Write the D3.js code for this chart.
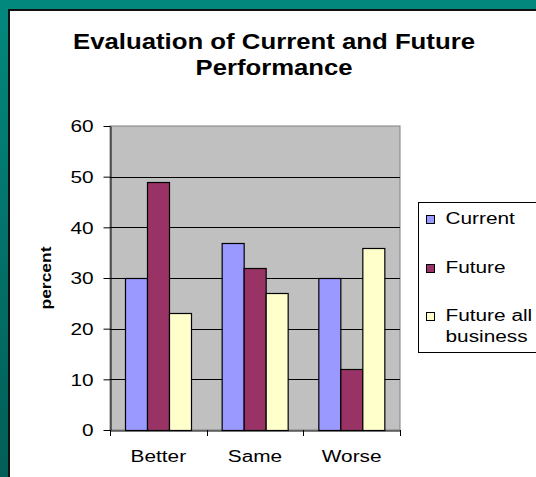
<!DOCTYPE html>
<html>
<head>
<meta charset="utf-8">
<script src="https://cdn.jsdelivr.net/npm/d3@7"></script>
<style>
  html, body { margin: 0; padding: 0; background: #027a70; }
  svg { display: block; font-family: Arial, "Liberation Sans", sans-serif; }
</style>
</head>
<body>
<svg id="chart" width="536" height="477"></svg>
<script>
'use strict';

// ---- Data -------------------------------------------------------------------

const categories = ['Better', 'Same', 'Worse'];
const seriesNames = ['Current', 'Future', 'Future all business'];
const current = [30, 37, 30];
const future = [49, 32, 12];
const futureAll = [23, 27, 36];
const yTicks = [0, 10, 20, 30, 40, 50, 60];

const series = [current, future, futureAll];
const colors = ['#9999ff', '#993366', '#ffffcc'];

// The source picture is stretched sideways, so text is widened to match.
const STRETCH = 1.3;

// ---- Layout -----------------------------------------------------------------

const svg = d3.select('#chart');
const W = 536, H = 477;
const plot = { left: 110, right: 400, top: 126, bottom: 430 };

// Widen a text element horizontally by the given factor.
function stretch(sel, factor) {
  sel.each(function () {
    const w = this.getComputedTextLength();
    d3.select(this).attr('textLength', w * factor).attr('lengthAdjust', 'spacingAndGlyphs');
  });
}

// Teal backdrop + white slide panel.
const defs = svg.append('defs');
const grad = defs.append('linearGradient').attr('id', 'teal')
  .attr('x1', 0).attr('y1', 0).attr('x2', 0).attr('y2', 1);
grad.append('stop').attr('offset', '0%').attr('stop-color', '#03887d');
grad.append('stop').attr('offset', '100%').attr('stop-color', '#025e58');
svg.append('rect').attr('width', W).attr('height', H).attr('fill', 'url(#teal)');
svg.append('rect').attr('x', 8).attr('y', 9).attr('width', W - 8).attr('height', H - 9)
  .attr('fill', '#111');
svg.append('rect').attr('x', 10).attr('y', 11).attr('width', W - 10).attr('height', H - 11)
  .attr('fill', '#fff');

// ---- Title ------------------------------------------------------------------

const title = svg.append('g')
  .attr('font-size', 22).attr('font-weight', 'bold').attr('fill', '#000');
title.append('text').attr('text-anchor', 'middle').attr('x', 274).attr('y', 49)
  .text('Evaluation of Current and Future').attr('textLength', 402)
  .attr('lengthAdjust', 'spacingAndGlyphs');
title.append('text').attr('text-anchor', 'middle').attr('x', 274).attr('y', 75)
  .text('Performance').attr('textLength', 157)
  .attr('lengthAdjust', 'spacingAndGlyphs');

// ---- Scales -----------------------------------------------------------------

const x = d3.scaleBand().domain(categories).range([plot.left, plot.right])
  .paddingInner(0).paddingOuter(0);
const xInner = d3.scaleBand().domain(d3.range(series.length))
  .range([0, x.bandwidth()]).paddingInner(0).paddingOuter(0.7);
const y = d3.scaleLinear().domain([0, 60]).range([plot.bottom, plot.top]);

// Plot area background.
svg.append('rect')
  .attr('x', plot.left).attr('y', plot.top)
  .attr('width', plot.right - plot.left).attr('height', plot.bottom - plot.top)
  .attr('fill', '#c0c0c0').attr('stroke', '#808080').attr('stroke-width', 1);

// Gridlines.
svg.append('g').selectAll('line')
  .data(yTicks.filter(t => t > 0 && t < 60))
  .join('line')
  .attr('x1', plot.left).attr('x2', plot.right)
  .attr('y1', d => Math.round(y(d)) + 0.5).attr('y2', d => Math.round(y(d)) + 0.5)
  .attr('stroke', '#000').attr('stroke-width', 1);

// ---- Bars -------------------------------------------------------------------

const groups = svg.append('g').selectAll('g')
  .data(categories)
  .join('g')
  .attr('transform', c => `translate(${x(c)},0)`);

groups.selectAll('rect')
  .data((c, ci) => series.map((s, si) => ({ si, v: s[ci] })))
  .join('rect')
  .attr('x', d => Math.round(xInner(d.si)) + 0.5)
  .attr('y', d => Math.round(y(d.v)) + 0.5)
  .attr('width', Math.round(xInner.bandwidth()))
  .attr('height', d => Math.round(y(0)) - Math.round(y(d.v)))
  .attr('fill', d => colors[d.si])
  .attr('stroke', '#000').attr('stroke-width', 1.2);

// ---- Axes -------------------------------------------------------------------

const yAxis = svg.append('g')
  .attr('transform', `translate(${plot.left + 0.5},0)`)
  .call(d3.axisLeft(y).tickValues(yTicks).tickSize(7).tickPadding(10).tickSizeOuter(0));
yAxis.select('.domain').attr('stroke', '#000');
yAxis.selectAll('.tick line').attr('stroke', '#000');
yAxis.selectAll('.tick text')
  .attr('font-size', 16).attr('font-family', 'Arial, "Liberation Sans", sans-serif')
  .attr('fill', '#000').attr('dy', '0.36em')
  .call(stretch, STRETCH);

const xAxis = svg.append('g')
  .attr('transform', `translate(0,${plot.bottom + 0.5})`)
  .call(d3.axisBottom(x).tickSize(0).tickPadding(20).tickSizeOuter(0));
xAxis.select('.domain').attr('stroke', '#000');
xAxis.selectAll('.tick text')
  .attr('font-size', 16).attr('font-family', 'Arial, "Liberation Sans", sans-serif')
  .attr('fill', '#000')
  .call(stretch, STRETCH);

// Category boundary ticks below the axis.
svg.append('g').selectAll('line')
  .data(categories.concat(['end']))
  .join('line')
  .attr('x1', (d, i) => Math.round(i < categories.length ? x(d) : plot.right) + 0.5)
  .attr('x2', (d, i) => Math.round(i < categories.length ? x(d) : plot.right) + 0.5)
  .attr('y1', plot.bottom).attr('y2', plot.bottom + 6)
  .attr('stroke', '#000');

// Y axis title.
svg.append('text')
  .attr('transform', 'translate(50.5,278) rotate(-90)')
  .attr('text-anchor', 'middle')
  .attr('font-size', 14).attr('font-weight', 'bold')
  .attr('textLength', 63).attr('lengthAdjust', 'spacingAndGlyphs')
  .text('percent');

// ---- Legend -----------------------------------------------------------------

const legend = svg.append('g');
legend.append('rect')
  .attr('x', 418.5).attr('y', 202.5).attr('width', 130).attr('height', 150)
  .attr('fill', '#fff').attr('stroke', '#000');

const legendRows = [
  { y: 224, lines: ['Current'] },
  { y: 273, lines: ['Future'] },
  { y: 321, lines: ['Future all', 'business'] },
];

const items = legend.selectAll('g.item')
  .data(legendRows.map((r, i) => ({ ...r, name: seriesNames[i], color: colors[i] })))
  .join('g').attr('class', 'item');

items.append('rect')
  .attr('x', 426.5).attr('y', d => d.y - 8.5)
  .attr('width', 8).attr('height', 8)
  .attr('fill', d => d.color).attr('stroke', '#000');

items.append('g')
  .attr('font-size', 16).attr('fill', '#000')
  .selectAll('text')
  .data(d => d.lines.map((l, i) => ({ l, i, y: d.y })))
  .join('text')
  .attr('x', 445.5)
  .attr('y', d => d.y + d.i * 21)
  .text(d => d.l)
  .call(stretch, STRETCH);
</script>
</body>
</html>
